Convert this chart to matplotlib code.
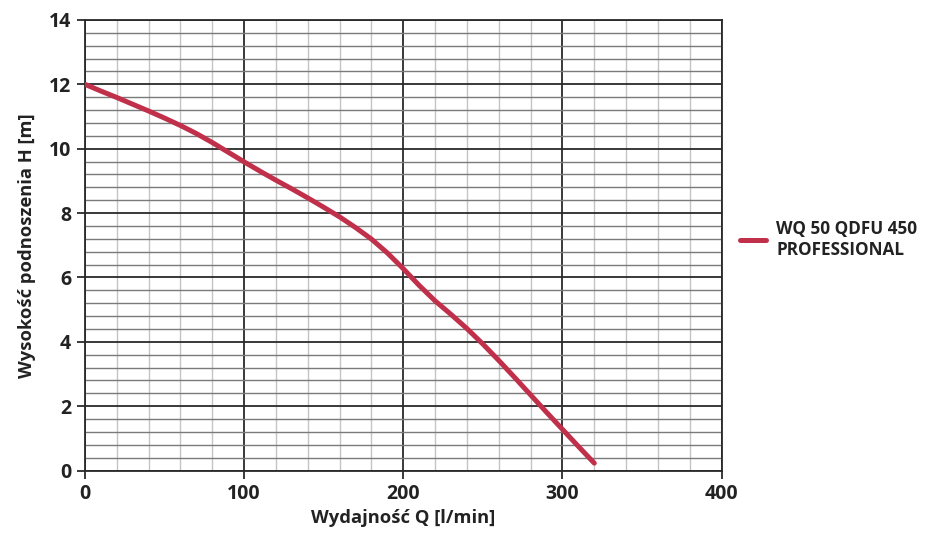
import matplotlib.pyplot as plt
from matplotlib.ticker import MultipleLocator

# pump curve
flow = [0, 10, 20, 30, 40, 50, 60, 70, 80, 90, 100, 110, 120, 130, 140, 150, 160,
        170, 180, 190, 200, 210, 220, 230, 240, 250, 260, 270, 280, 290, 300, 310, 320]
head = [12.0, 11.79, 11.59, 11.38, 11.17, 10.95, 10.72, 10.47, 10.19, 9.89, 9.59,
        9.30, 9.02, 8.75, 8.47, 8.18, 7.88, 7.55, 7.19, 6.76, 6.27, 5.75, 5.27,
        4.85, 4.41, 3.93, 3.42, 2.89, 2.35, 1.81, 1.28, 0.75, 0.23]
series_name = "WQ 50 QDFU 450\nPROFESSIONAL"
x_label = "Wydajność Q [l/min]"
y_label = "Wysokość podnoszenia H [m]"

plt.rcParams["font.family"] = ["Open Sans", "DejaVu Sans"]
text_color = "#222222"
curve_color = "#c1304b"

fig = plt.figure(figsize=(9.28, 5.39), dpi=100)
ax = fig.add_axes([0.0916, 0.127, 0.686, 0.836])

ax.set_xlim(0, 400)
ax.set_ylim(0, 14)
ax.xaxis.set_major_locator(MultipleLocator(100))
ax.yaxis.set_major_locator(MultipleLocator(2))
ax.xaxis.set_minor_locator(MultipleLocator(20))
ax.yaxis.set_minor_locator(MultipleLocator(0.4))

ax.grid(which="minor", axis="x", color="#c4c4c4", linewidth=1.0)
ax.grid(which="minor", axis="y", color="#7a7a7a", linewidth=1.0)
ax.grid(which="major", color="#2a2a2a", linewidth=1.3)
ax.set_axisbelow(True)

for spine in ax.spines.values():
    spine.set_color("#2a2a2a")
    spine.set_linewidth(1.3)

ax.tick_params(which="major", length=6, width=1.3, color="#2a2a2a",
               labelsize=14, labelcolor=text_color, pad=4)
ax.tick_params(which="minor", length=0)
for lbl in ax.get_xticklabels() + ax.get_yticklabels():
    lbl.set_fontweight("bold")

ax.plot(flow, head, color=curve_color, linewidth=3.6, solid_capstyle="round",
        label=series_name, zorder=3)

ax.set_xlabel(x_label, fontsize=13.2, fontweight="bold", color=text_color, labelpad=3)
ax.set_ylabel(y_label, fontsize=13.2, fontweight="bold", color=text_color, labelpad=9)

ax.legend(loc="center left", bbox_to_anchor=(1.005, 0.513), frameon=False,
          prop={"size": 12.3, "weight": "bold"}, labelcolor=text_color,
          handlelength=1.5, handletextpad=0.6, labelspacing=0.2)

fig.savefig("out.png", dpi=100)
